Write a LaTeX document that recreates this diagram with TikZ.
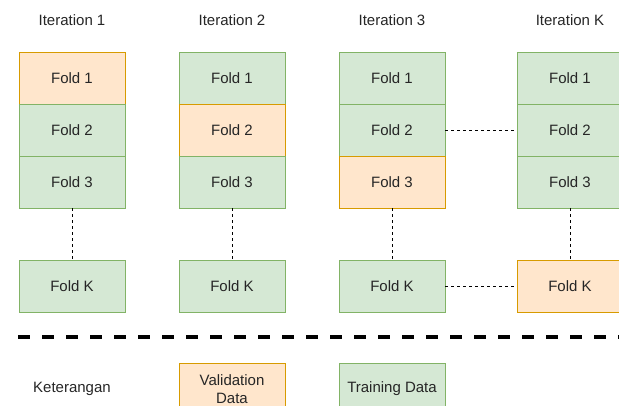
\documentclass[tikz,border=0pt]{standalone}
\usepackage{fontspec}
\setmainfont{Liberation Sans}
\usetikzlibrary{positioning}

\definecolor{validfill}{HTML}{FFE6CC}
\definecolor{validline}{HTML}{D79B00}
\definecolor{trainfill}{HTML}{D5E8D4}
\definecolor{trainline}{HTML}{82B366}

\begin{document}
\begin{tikzpicture}[x=1pt,y=-1pt,
    label text/.style={font=\fontsize{15}{18}\selectfont, text=black!85},
    fold/.style={label text, draw, line width=0.9pt, minimum width=106pt, minimum height=52pt, inner sep=0pt, align=center},
    valid/.style={fold, fill=validfill, draw=validline},
    train/.style={fold, fill=trainfill, draw=trainline},
    gap/.style={draw=black, line width=0.8pt, dash pattern=on 3pt off 3pt}]

\useasboundingbox (0,0) rectangle (619,405);

% Columns: one per iteration
\foreach \c/\x/\t/\sa/\sb/\sc/\sk in {1/72/1/valid/train/train/train,
                                       2/232/2/train/valid/train/train,
                                       3/392/3/train/train/valid/train,
                                       4/570/K/train/train/train/valid}
{
    \node[label text] (it\c) at (\x,20) {Iteration \t};
    \node[\sa] (f\c-1) at (\x,78) {Fold 1};
    \node[\sb] (f\c-2) at (\x,130) {Fold 2};
    \node[\sc] (f\c-3) at (\x,182) {Fold 3};
    \node[\sk] (f\c-k) at (\x,286) {Fold K};

    % Gap between Fold 3 and Fold K
    \draw[gap] (f\c-3) -- (f\c-k);
}

% Gap between Iteration 3 and Iteration K
\draw[gap] (f3-2) -- (f4-2);
\draw[gap] (f3-k) -- (f4-k);

% Separator
\coordinate (sepL) at (18,337);
\coordinate (sepR) at (625,337);
\draw[line width=4pt, dash pattern=on 12pt off 12pt] (sepL) -- (sepR);

% Legend
\node[label text] (ket) at (72,389) {Keterangan};
\node[valid] (legvalid) at (232,389) {Validation\\Data};
\node[train] (legtrain) at (392,389) {Training Data};

\end{tikzpicture}
\end{document}
